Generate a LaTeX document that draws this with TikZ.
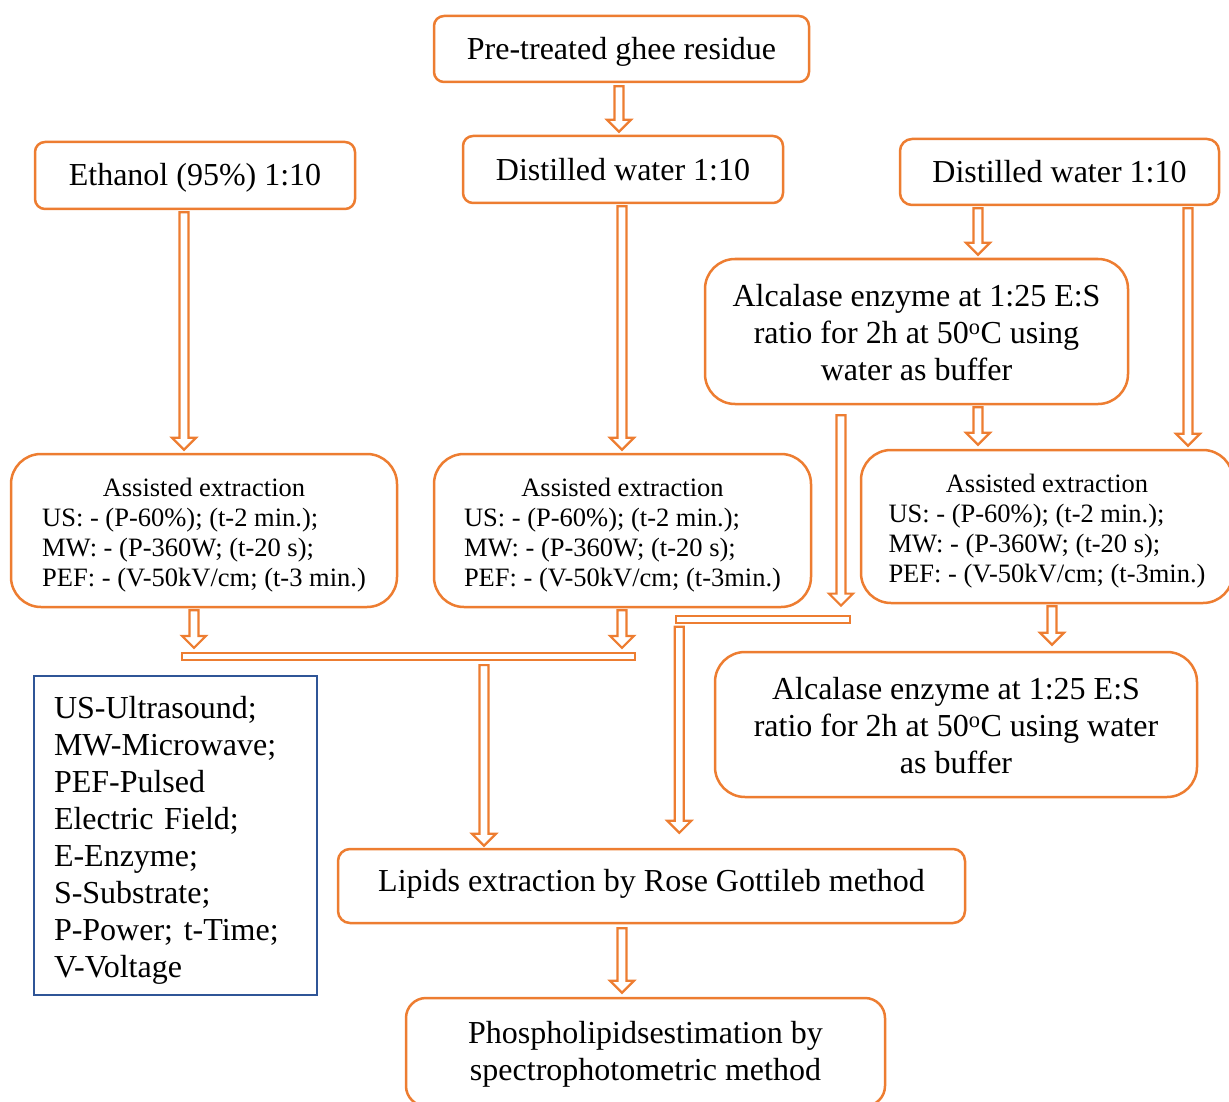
\documentclass[tikz,border=0pt]{standalone}
\usepackage{fontspec}
\setmainfont{Liberation Serif}
\usetikzlibrary{calc}
\definecolor{orng}{HTML}{ED7D31}
\definecolor{lgblue}{HTML}{2F5597}
\newcommand\dn[2]{\raisebox{-#1}[\height][\depth]{#2}}
\begin{document}
\begin{tikzpicture}[x=1pt,y=-1pt,
  box/.style={draw=orng, line width=2.5pt, rounded corners=#1, inner sep=0pt, align=center, fill=white},
  box/.default=10pt,
  big/.style={font=\fontsize{32}{37}\selectfont},
  small/.style={font=\fontsize{26.5}{30}\selectfont},
  bar/.style={draw=orng, line width=2.2pt, fill=white, inner sep=0pt, minimum height=7pt},
  barrow/.style={draw=orng, line width=2.2pt, fill=white, line join=miter,
    to path={let \p1=(\tikztostart), \p2=(\tikztotarget) in
      (\x1-4.5pt,\y1) -- (\x1+4.5pt,\y1) -- (\x1+4.5pt,\y2+12pt) -- (\x1+12pt,\y2+12pt)
      -- (\x1,\y2) -- (\x1-12pt,\y2+12pt) -- (\x1-4.5pt,\y2+12pt) -- cycle}}
]
\useasboundingbox (0,0) rectangle (1229,1102);
\clip (0,0) rectangle (1229,1102);

% boxes
\node[box, big, minimum width=375, minimum height=66] (pre) at (621.5,49) {\dn{3pt}{Pre-treated ghee residue}};
\node[box, big, minimum width=320, minimum height=67] (eth) at (195,175.5) {\dn{2pt}{Ethanol (95\%) 1:10}};
\node[box, big, minimum width=320, minimum height=67] (dwm) at (623,169.5) {Distilled water 1:10};
\node[box=12pt, big, minimum width=319, minimum height=66] (dwr) at (1059.5,172) {Distilled water 1:10};
\node[box=30pt, big, minimum width=423, minimum height=145] (alt) at (916.5,331.5)
  {\dn{5pt}{\begin{tabular}{@{}c@{}}Alcalase enzyme at 1:25 E:S\\ratio for 2h at 50\textsuperscript{o}C using\\water as buffer\end{tabular}}};
\node[box=30pt, small, minimum width=386, minimum height=153] (asl) at (204,530.5)
  {\dn{5pt}{\begin{tabular}{@{}l@{}}\multicolumn{1}{@{}c@{}}{Assisted extraction}\\
   US: - (P-60\%); (t-2 min.);\\MW: - (P-360W; (t-20 s);\\PEF: - (V-50kV/cm; (t-3 min.)\end{tabular}}};
\node[box=30pt, small, minimum width=377, minimum height=153] (asm) at (622.5,530.5)
  {\dn{5pt}{\begin{tabular}{@{}l@{}}\multicolumn{1}{@{}c@{}}{Assisted extraction}\\
   US: - (P-60\%); (t-2 min.);\\MW: - (P-360W; (t-20 s);\\PEF: - (V-50kV/cm; (t-3min.)\end{tabular}}};
\node[box=30pt, small, minimum width=372, minimum height=153] (asr) at (1047,526.5)
  {\dn{5pt}{\begin{tabular}{@{}l@{}}\multicolumn{1}{@{}c@{}}{Assisted extraction}\\
   US: - (P-60\%); (t-2 min.);\\MW: - (P-360W; (t-20 s);\\PEF: - (V-50kV/cm; (t-3min.)\end{tabular}}};
\node[box=30pt, big, minimum width=482, minimum height=145] (alb) at (956,724.5)
  {\dn{5pt}{\begin{tabular}{@{}c@{}}Alcalase enzyme at 1:25 E:S\\ratio for 2h at 50\textsuperscript{o}C using water\\as buffer\end{tabular}}};
\node[draw=lgblue, line width=2.2pt, big, text width=243pt, align=left, inner xsep=20pt, inner ysep=0pt,
  minimum height=319] (leg) at (175.5,835.5)
  {\dn{5pt}{\begin{tabular}{@{}l@{}}US-Ultrasound;\\MW-Microwave;\\PEF-Pulsed\\Electric Field;\\E-Enzyme;\\S-Substrate;\\P-Power; t-Time;\\V-Voltage\end{tabular}}};
\node[box=12pt, big, minimum width=627, minimum height=74] (lip) at (651.5,886) {\dn{-2.5pt}{Lipids extraction by Rose Gottileb method}};
\node[box=20pt, big, minimum width=479, minimum height=108] (pho) at (645.5,1052)
  {\dn{3pt}{\begin{tabular}{@{}c@{}}Phospholipidsestimation by\\spectrophotometric method\end{tabular}}};

% bars
\node[bar, minimum width=453] (bar1) at (408.5,656.5) {};
\node[bar, minimum width=174] (bar2) at (763.3,619.2) {};

% arrows
\draw[barrow] ([xshift=-2.5pt,yshift=-3pt]pre.south) to ([yshift=3pt]dwm.north);
\draw[barrow] ([xshift=-11pt,yshift=-2pt]eth.south) to ([yshift=3pt]asl.north);
\draw[barrow] ([xshift=-1pt,yshift=-2pt]dwm.south) to ([yshift=3pt]asm.north);
\draw[barrow] ([xshift=-81.5pt,yshift=-2pt]dwr.south) to ([yshift=3pt]alt.north);
\draw[barrow] ([xshift=128.5pt,yshift=-2pt]dwr.south) to ([yshift=3pt]asr.north);
\draw[barrow] ([xshift=61.5pt,yshift=-2pt]alt.south) to ([yshift=4pt]asr.north);
\draw[barrow] ([xshift=-75.5pt,yshift=-10pt]alt.south) to ([yshift=9pt]bar2.north);
\draw[barrow] ([xshift=-84pt,yshift=-3pt]bar2.south) to ([yshift=15pt]lip.north);
\draw[barrow] ([xshift=-10pt,yshift=-2pt]asl.south) to ([yshift=4pt]bar1.north);
\draw[barrow] ([xshift=-0.5pt,yshift=-2pt]asm.south) to ([yshift=4pt]bar1.north);
\draw[barrow] ([xshift=75.5pt,yshift=-4pt]bar1.south) to ([yshift=2pt]lip.north);
\draw[barrow] ([xshift=5pt,yshift=-2pt]asr.south) to ([yshift=6pt]alb.north);
\draw[barrow] ([xshift=-29.5pt,yshift=-4pt]lip.south) to ([yshift=4pt]pho.north);
\end{tikzpicture}
\end{document}
